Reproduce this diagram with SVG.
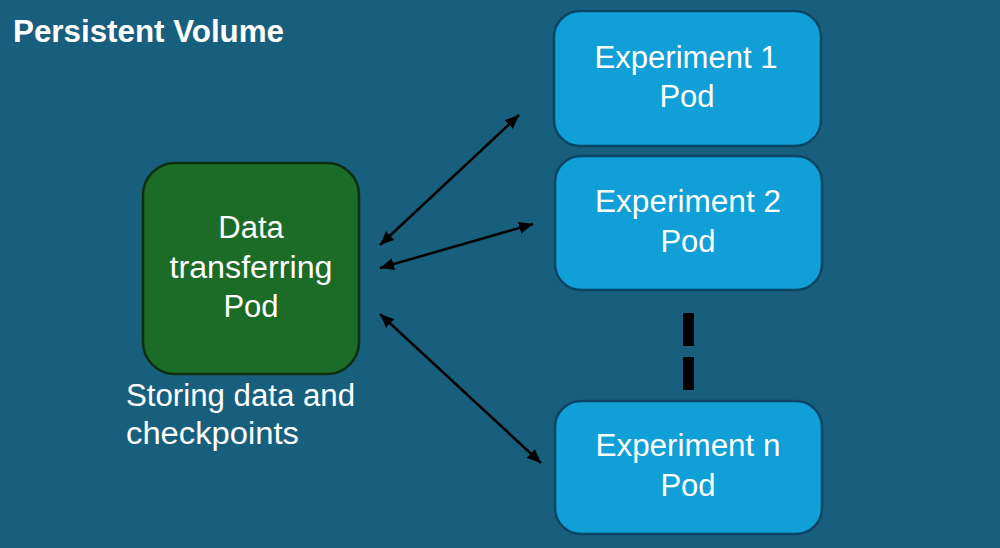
<svg xmlns="http://www.w3.org/2000/svg" width="1000" height="548" viewBox="0 0 1000 548">
  <style>
    .t { font-family: "Liberation Sans", Arial, sans-serif; font-size: 31px; fill: #ffffff; }
    .c { text-anchor: middle; }
    .exp { fill: #109fd7; stroke: #0b4563; stroke-width: 2.5; }
    .dtp { fill: #1c6b27; stroke: #0b2f10; stroke-width: 2.5; }
    .conn { stroke: #000000; stroke-width: 2.5; fill: none; marker-start: url(#ah); marker-end: url(#ah); }
  </style>
  <defs>
    <marker id="ah" viewBox="0 0 14 12" refX="14" refY="6" markerWidth="14" markerHeight="12" markerUnits="userSpaceOnUse" orient="auto-start-reverse">
      <path d="M0,0 L14,6 L0,12 Z" fill="#000000"/>
    </marker>
  </defs>
  <rect width="1000" height="548" fill="#185f7e"/>
  <text id="title" x="13" y="42" class="t" style="font-weight:bold;font-size:31px" textLength="271" lengthAdjust="spacingAndGlyphs">Persistent Volume</text>

  <g id="data-pod">
    <rect x="143" y="163" width="216" height="211" rx="32" class="dtp"/>
    <text class="t c" x="251" y="238">Data</text>
    <text class="t c" x="251" y="278" textLength="163" lengthAdjust="spacingAndGlyphs">transferring</text>
    <text class="t c" x="251" y="317">Pod</text>
  </g>
  <g id="storing-label">
    <text class="t" x="126" y="406" textLength="229" lengthAdjust="spacingAndGlyphs">Storing data and</text>
    <text class="t" x="126" y="444" textLength="173" lengthAdjust="spacingAndGlyphs">checkpoints</text>
  </g>

  <g id="exp1">
    <rect x="554" y="11" width="267" height="135" rx="26" class="exp"/>
    <text class="t c" x="686" y="68" textLength="183" lengthAdjust="spacingAndGlyphs">Experiment 1</text>
    <text class="t c" x="687" y="107">Pod</text>
  </g>
  <g id="exp2">
    <rect x="555" y="156" width="267" height="134" rx="26" class="exp"/>
    <text class="t c" x="688" y="212" textLength="186" lengthAdjust="spacingAndGlyphs">Experiment 2</text>
    <text class="t c" x="688" y="252">Pod</text>
  </g>
  <g id="expn">
    <rect x="555" y="401" width="267" height="133" rx="26" class="exp"/>
    <text class="t c" x="688" y="456" textLength="185" lengthAdjust="spacingAndGlyphs">Experiment n</text>
    <text class="t c" x="688" y="496">Pod</text>
  </g>

  <g id="connectors">
    <line x1="380" y1="245" x2="519" y2="115" class="conn"/>
    <line x1="380" y1="268" x2="533" y2="224" class="conn"/>
    <line x1="380" y1="314" x2="541" y2="463" class="conn"/>
    <line x1="688.5" y1="313" x2="688.5" y2="390" stroke="#000000" stroke-width="11" stroke-dasharray="33 11"/>
  </g>
</svg>
